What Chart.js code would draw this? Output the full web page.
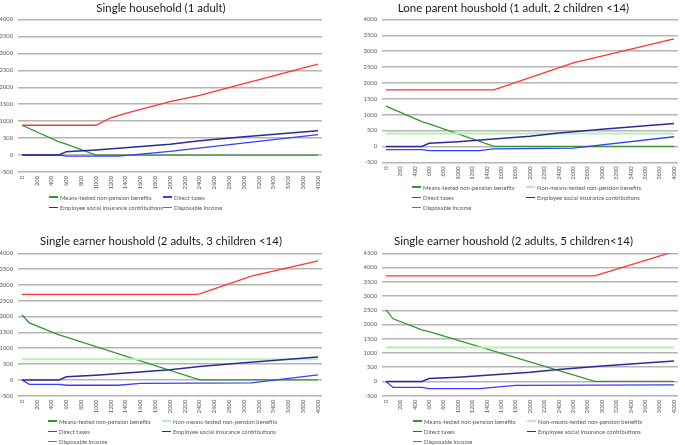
<!DOCTYPE html>
<html>
<head>
<meta charset="utf-8">
<script src="https://cdn.jsdelivr.net/npm/chart.js@4.4.1/dist/chart.umd.min.js"></script>
<style>
  body { margin: 0; background: #fff; }
  #wrap { position: relative; width: 685px; height: 445px; overflow: hidden; }
  .panel { position: absolute; }
  .legend {
    position: absolute;
    display: grid;
    grid-template-columns: 114px 114px;
    grid-auto-rows: 10.3px;
    align-items: center;
    font-family: Lato, sans-serif;
    color: #595959;
    white-space: nowrap;
  }
  .legend .item { display: flex; align-items: center; }
  .legend .swatch { flex: 0 0 9px; height: 1.5px; margin-right: 2px; }
</style>
</head>
<body>
<div id="wrap">
  <div class="panel" style="left:0;top:0"><canvas id="c1" width="342" height="222"></canvas><div class="legend" id="l1" style="left:49px;top:192px"></div></div>
  <div class="panel" style="left:342px;top:0"><canvas id="c2" width="343" height="222"></canvas><div class="legend" id="l2" style="left:70px;top:182px"></div></div>
  <div class="panel" style="left:0;top:222px"><canvas id="c3" width="342" height="223"></canvas><div class="legend" id="l3" style="left:48px;top:194px"></div></div>
  <div class="panel" style="left:342px;top:222px"><canvas id="c4" width="343" height="223"></canvas><div class="legend" id="l4" style="left:71px;top:194px"></div></div>
</div>
<script>
// gross earnings on the x axis, tick labels every 200
const xTickLabels = [0, 200, 400, 600, 800, 1000, 1200, 1400, 1600, 1800, 2000,
                     2200, 2400, 2600, 2800, 3000, 3200, 3400, 3600, 3800, 4000];

const seriesNames = [
  'Means-tested non-pension benefits',
  'Non-means-tested non-pension benefits',
  'Direct taxes',
  'Employee social insurance contributions',
  'Disposable income'
];

// [earnings, amount] at the break points
// Single household (1 adult)
const single_meansTested = [[0, 880], [500, 390], [600, 320], [1000, 0], [4000, 0]];
const single_directTaxes = [[0, 0], [500, 0], [600, -30], [1300, -30], [1600, 30], [2000, 110], [4000, 600]];
const single_employeeSIC = [[0, 0], [500, 0], [600, 100], [1000, 150], [2000, 320], [2400, 420], [3000, 540], [4000, 720]];
const single_disposable = [[0, 880], [1000, 880], [1200, 1100], [1400, 1230], [2000, 1580], [2400, 1760], [3000, 2110], [4000, 2680]];

// Lone parent (1 adult, 2 children)
const lone_meansTested = [[0, 1270], [500, 780], [600, 710], [1500, 0], [4000, 0]];
const lone_nonMeansTested = [[0, 410], [4000, 410]];
const lone_directTaxes = [[0, -100], [500, -100], [600, -130], [1300, -130], [1500, -80], [2600, -55], [4000, 305]];
const lone_employeeSIC = [[0, 0], [500, 0], [600, 100], [1000, 150], [2000, 320], [2400, 420], [3000, 540], [4000, 720]];
const lone_disposable = [[0, 1780], [1500, 1780], [2600, 2630], [4000, 3390]];

// Single earner (2 adults, 3 children)
const three_meansTested = [[0, 2050], [100, 1800], [500, 1420], [600, 1350], [2400, 0], [4000, 0]];
const three_nonMeansTested = [[0, 650], [4000, 650]];
const three_directTaxes = [[0, 0], [100, -140], [500, -140], [600, -170], [1300, -170], [1600, -110], [3100, -95], [4000, 160]];
const three_employeeSIC = [[0, 0], [500, 0], [600, 100], [1000, 150], [2000, 320], [2400, 420], [3000, 540], [4000, 720]];
const three_disposable = [[0, 2700], [2350, 2700], [2400, 2720], [3100, 3280], [4000, 3760]];

// Single earner (2 adults, 5 children)
const five_meansTested = [[0, 2520], [100, 2200], [500, 1810], [600, 1750], [2900, 0], [4000, 0]];
const five_nonMeansTested = [[0, 1190], [4000, 1190]];
const five_directTaxes = [[0, 0], [100, -210], [500, -210], [600, -250], [1300, -250], [1800, -140], [4000, -120]];
const five_employeeSIC = [[0, 0], [500, 0], [600, 100], [1000, 150], [2000, 320], [2400, 420], [3000, 540], [4000, 720]];
const five_disposable = [[0, 3710], [2900, 3710], [4000, 4560]];

const colors = ['#2e9a2e', '#b6f0b6', '#3c3cff', '#2b2b9c', '#ff3434'];
const widths = [1.3, 2, 1.3, 1.5, 1.3];

// size the Lato text so it takes the same width as the spreadsheet's Calibri
const measure = document.createElement('canvas').getContext('2d');
function fitSize(text, targetWidth) {
    measure.font = '100px Lato';
    return 100 * targetWidth / measure.measureText(text).width;
}
const titleSize = fitSize('Single earner houshold (2 adults, 3 children <14)', 242);
const legendSize = fitSize('Employee social insurance contributions', 103);
const tickSize = fitSize('4000', 13.5);
const tickFont = { family: 'Lato', size: tickSize };

document.querySelectorAll('.legend').forEach(el => { el.style.fontSize = legendSize + 'px'; });

function makeDataset(idx, pts, n, i) {
    return {
        label: seriesNames[idx],
        data: pts.map(p => ({ x: p[0], y: p[1] })),
        borderColor: colors[idx],
        backgroundColor: colors[idx],
        borderWidth: widths[idx],
        pointRadius: 0,
        tension: 0,
        fill: false,
        order: n - i   // later series on top, like the spreadsheet
    };
}

function makeChart(id, legendId, title, series, yMax, lay) {
    const datasets = series.map((s, i) => makeDataset(s[0], s[1], series.length, i));
    // title block: centre of text at lay.titleMid, plot top at lay.plotTop
    const titleTop = lay.titleMid - titleSize * 0.6;
    const titleBottom = lay.plotTop - titleTop - titleSize * 1.2;
    const chart = new Chart(document.getElementById(id), {
        type: 'line',
        data: { datasets: datasets },
        options: {
            responsive: false,
            animation: false,
            layout: { padding: { left: 0, right: lay.right, top: 0, bottom: lay.bottom - 4 } },
            plugins: {
                legend: { display: false },
                tooltip: { enabled: false },
                title: {
                    display: true,
                    text: title,
                    color: '#1a1a1a',
                    font: { family: 'Lato', size: titleSize, weight: 'normal' },
                    padding: { top: titleTop, bottom: titleBottom }
                }
            },
            scales: {
                x: {
                    type: 'linear',
                    min: -54,
                    max: 4054,
                    afterBuildTicks: s => { s.ticks = xTickLabels.map(v => ({ value: v })); },
                    afterFit: s => { s.height = 24; },
                    grid: { display: false, drawTicks: false },
                    border: { display: false },
                    ticks: {
                        autoSkip: false,
                        minRotation: 90,
                        maxRotation: 90,
                        padding: 4,
                        font: tickFont,
                        color: '#595959',
                        callback: v => String(v)
                    }
                },
                y: {
                    min: -500,
                    max: yMax,
                    afterFit: s => { s.width = lay.yWidth; },
                    grid: { color: '#b4b4b4', lineWidth: 1.5, drawTicks: false },
                    border: { display: false },
                    ticks: {
                        stepSize: 500,
                        padding: 5,
                        font: tickFont,
                        color: '#595959',
                        callback: v => String(v)
                    }
                }
            }
        }
    });

    // spreadsheet-style legend, two columns
    const box = document.getElementById(legendId);
    chart.data.datasets.forEach(ds => {
        const item = document.createElement('div');
        item.className = 'item';
        item.innerHTML = '<span class="swatch" style="background:' + ds.borderColor + '"></span>' + ds.label;
        box.appendChild(item);
    });
    return chart;
}

makeChart('c1', 'l1', 'Single household (1 adult)',
    [[0, single_meansTested], [2, single_directTaxes], [3, single_employeeSIC], [4, single_disposable]],
    4000, { right: 20, bottom: 30, yWidth: 18, titleMid: 8.4, plotTop: 19.5 });

makeChart('c2', 'l2', 'Lone parent houshold (1 adult, 2 children <14)',
    [[0, lone_meansTested], [1, lone_nonMeansTested], [2, lone_directTaxes], [3, lone_employeeSIC], [4, lone_disposable]],
    4000, { right: 0, bottom: 39.7, yWidth: 40, titleMid: 8.4, plotTop: 19.5 });

makeChart('c3', 'l3', 'Single earner houshold (2 adults, 3 children <14)',
    [[0, three_meansTested], [1, three_nonMeansTested], [2, three_directTaxes], [3, three_employeeSIC], [4, three_disposable]],
    4000, { right: 20, bottom: 29.3, yWidth: 18, titleMid: 19.3, plotTop: 31.3 });

makeChart('c4', 'l4', 'Single earner houshold (2 adults, 5 children<14)',
    [[0, five_meansTested], [1, five_nonMeansTested], [2, five_directTaxes], [3, five_employeeSIC], [4, five_disposable]],
    4500, { right: 0, bottom: 29.3, yWidth: 40, titleMid: 19.3, plotTop: 31.3 });
</script>
</body>
</html>
